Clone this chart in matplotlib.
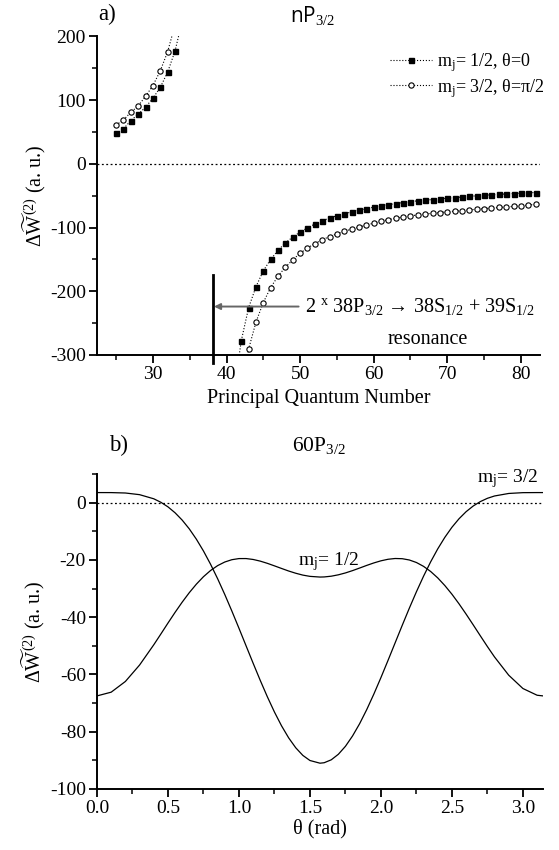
import matplotlib
matplotlib.use('Agg')
from matplotlib import pyplot as plt
from matplotlib.ticker import MultipleLocator, FormatStrFormatter

# =============================================================================================
# Data
# =============================================================================================
# panel a) - left branch (below resonance)
n_low_sq = [25, 26, 27, 28, 29, 30, 31, 32, 33, 34]
w_low_sq = [48, 55, 68, 78, 89, 103, 120, 144, 177, 225]
n_low_ci = [25, 26, 27, 28, 29, 30, 31, 32, 33]
w_low_ci = [61, 69, 81, 91, 106, 123, 146, 176, 218]

# panel a) - right branch (above resonance)
n_high_sq = [41, 42, 43, 44, 45, 46, 47, 48, 49, 50, 51, 52, 53, 54, 55, 56, 57, 58, 59, 60, 61,
             62, 63, 64, 65, 66, 67, 68, 69, 70, 71, 72, 73, 74, 75, 76, 77, 78, 79, 80, 81, 82]
w_high_sq = [-360, -278, -226, -193, -168, -150, -136, -124, -115, -107, -100.5, -94.5, -89.5,
             -85, -81.6, -78.5, -75.4, -72.7, -70.4, -68, -66, -64, -62.4, -60.8, -59.2, -58,
             -57, -56, -55, -54, -53, -52, -51, -50.2, -49.4, -48.6, -47.9, -47.2, -46.6, -46,
             -45.5, -45]
n_high_ci = [42, 43, 44, 45, 46, 47, 48, 49, 50, 51, 52, 53, 54, 55, 56, 57, 58, 59, 60, 61, 62,
             63, 64, 65, 66, 67, 68, 69, 70, 71, 72, 73, 74, 75, 76, 77, 78, 79, 80, 81, 82]
w_high_ci = [-360, -291, -248.5, -217.7, -194.2, -176.3, -162.2, -150.7, -140.2, -132.3, -125.1,
             -119.3, -114.1, -109.9, -105.7, -102.5, -99.4, -96.2, -93, -90, -87.6, -85.4,
             -83.3, -81.6, -80.1, -78.8, -77.5, -76.4, -75.3, -74.3, -73.3, -72.2, -71.2, -70.2,
             -69.4, -68.5, -67.6, -66.8, -65.9, -64.8, -63.3]

resonance_n = 38.2
arrow_w = -224

# panel b) - 60P3/2 versus theta
theta = [0.0, 0.1, 0.2, 0.3, 0.4, 0.45, 0.5, 0.55, 0.6, 0.65, 0.7, 0.75, 0.8, 0.85, 0.9, 0.95,
         1.0, 1.05, 1.1, 1.15, 1.2, 1.25, 1.3, 1.35, 1.4, 1.45, 1.5, 1.5708, 1.6, 1.65, 1.7,
         1.75, 1.8, 1.85, 1.9, 1.95, 2.0, 2.05, 2.1, 2.15, 2.2, 2.25, 2.3, 2.35, 2.4, 2.45, 2.5,
         2.55, 2.6, 2.65, 2.7, 2.75, 2.8, 2.9, 3.0, 3.1, 3.1416]
w_mj32 = [3.5, 3.49, 3.35, 2.77, 1.33, 0.11, -1.49, -3.56, -6.11, -9.17, -12.78, -16.90, -21.53,
          -26.61, -32.08, -37.87, -43.88, -50.00, -56.11, -62.09, -67.81, -73.14, -77.96,
          -82.15, -85.62, -88.28, -90.06, -91.0, -90.84, -89.82, -87.89, -85.10, -81.49, -77.20,
          -72.28, -66.87, -61.10, -55.09, -48.97, -42.86, -36.87, -31.13, -25.72, -20.71,
          -16.17, -12.14, -8.62, -5.64, -3.17, -1.19, 0.35, 1.50, 2.31, 3.19, 3.47, 3.50, 3.5]
w_mj12 = [-67.5, -66.20, -62.46, -56.72, -49.65, -45.88, -42.06, -38.33, -34.77, -31.46,
          -28.48, -25.88, -23.71, -22.00, -20.75, -19.94, -19.55, -19.54, -19.86, -20.44,
          -21.21, -22.09, -23.00, -23.89, -24.67, -25.32, -25.76, -26.0, -25.96, -25.70, -25.22,
          -24.56, -23.75, -22.85, -21.93, -21.07, -20.33, -19.79, -19.52, -19.59, -20.04,
          -20.92, -22.26, -24.05, -26.29, -28.96, -31.99, -35.35, -38.95, -42.70, -46.51,
          -50.28, -53.90, -60.27, -64.92, -67.27, -67.5]

# =============================================================================================
# Styling
# =============================================================================================
plt.rcParams['font.family'] = ['Liberation Serif', 'DejaVu Serif']
plt.rcParams['mathtext.fontset'] = 'custom'
plt.rcParams['mathtext.rm'] = 'Liberation Serif'
plt.rcParams['mathtext.it'] = 'Liberation Serif:italic'
plt.rcParams['mathtext.bf'] = 'Liberation Serif:bold'
plt.rcParams['axes.unicode_minus'] = False
tick_fontsize = 14
label_fontsize = 14.5
sans = 'Open Sans'

fig = plt.figure(figsize=(5.59, 8.5), dpi=100)
ax_a = fig.add_axes([0.1735, 0.5824, 0.7925, 0.3747])
ax_b = fig.add_axes([0.1735, 0.0718, 0.7979, 0.3706])


def style_axis(ax):
    for side in ['top', 'right']:
        ax.spines[side].set_visible(False)
    for side in ['left', 'bottom']:
        ax.spines[side].set_linewidth(1.4)
    ax.tick_params(which='major', direction='out', length=6, width=1.3,
                   labelsize=tick_fontsize, pad=2)
    ax.tick_params(which='minor', direction='out', length=3.5, width=1.1)


ylabel = r'$\Delta\widetilde{\mathrm{W}}^{(2)}$ (a. u.)'

# ---------------------------------------------------------------------------------------------
# panel a
# ---------------------------------------------------------------------------------------------
style_axis(ax_a)
ax_a.set_xlim(22.4, 82.6)
ax_a.set_ylim(-300, 200)
ax_a.xaxis.set_major_locator(MultipleLocator(10))
ax_a.xaxis.set_minor_locator(MultipleLocator(5))
ax_a.yaxis.set_major_locator(MultipleLocator(100))
ax_a.yaxis.set_minor_locator(MultipleLocator(50))

ax_a.axhline(0, color='black', lw=0.9, ls=(0, (1.5, 2)))

sq_style = dict(color='black', ls=':', lw=0.8, marker='s', ms=3.6, mfc='black', mec='black')
ci_style = dict(color='black', ls=':', lw=0.8, marker='o', ms=3.8, mfc='white', mec='black',
                mew=0.8)
ax_a.plot(n_low_sq, w_low_sq, label='m$_\\mathrm{j}$= 1/2, θ=0', **sq_style)
ax_a.plot(n_low_ci, w_low_ci, label='m$_\\mathrm{j}$= 3/2, θ=π/2', **ci_style)
ax_a.plot(n_high_sq, w_high_sq, **sq_style)
ax_a.plot(n_high_ci, w_high_ci, **ci_style)

# resonance marker and arrow
ax_a.plot([resonance_n, resonance_n], [-175, -312], color='black', lw=2, clip_on=False)
ax_a.annotate('', xy=(resonance_n + 0.1, arrow_w), xytext=(49.8, arrow_w),
              arrowprops=dict(arrowstyle='-|>', color='0.4', lw=1.4, mutation_scale=9,
                              shrinkA=0, shrinkB=0))
ax_a.text(50.6, arrow_w, '2 $^{\\mathrm{x}}$ 38P$_{3/2}$ \u2192 38S$_{1/2}$ + 39S$_{1/2}$',
          fontsize=14.5, va='center', ha='left')
ax_a.text(67.3, -276, 'resonance', fontsize=14.5, va='center', ha='center')

ax_a.legend(loc='upper right', bbox_to_anchor=(0.975, 0.94), bbox_transform=fig.transFigure,
            frameon=False, fontsize=13, handlelength=2.3, handletextpad=0.3,
            labelspacing=0.15, borderpad=0, borderaxespad=0)

ax_a.set_xlabel('Principal Quantum Number', fontsize=label_fontsize, labelpad=4)
ax_a.set_ylabel(ylabel, fontsize=label_fontsize, labelpad=1)
fig.text(0.175, 0.983, 'a)', fontsize=16.5, ha='left', va='center')
fig.text(0.518, 0.982, r'nP$_{3/2}$', fontsize=15, ha='left', va='center', family=sans)

# ---------------------------------------------------------------------------------------------
# panel b
# ---------------------------------------------------------------------------------------------
style_axis(ax_b)
ax_b.set_xlim(0, 3.1416)
ax_b.set_ylim(-100, 10)
ax_b.xaxis.set_major_locator(MultipleLocator(0.5))
ax_b.xaxis.set_minor_locator(MultipleLocator(0.25))
ax_b.yaxis.set_major_locator(MultipleLocator(20))
ax_b.yaxis.set_minor_locator(MultipleLocator(10))
ax_b.xaxis.set_major_formatter(FormatStrFormatter('%.1f'))

ax_b.axhline(0, color='black', lw=0.9, ls=(0, (1.5, 2)))
ax_b.plot(theta, w_mj32, color='black', lw=0.9)
ax_b.plot(theta, w_mj12, color='black', lw=0.9)
ax_b.text(1.415, -24.5, r'm$_\mathrm{j}$= 1/2', fontsize=14, ha='left', va='bottom')
ax_b.text(2.68, 4.3, r'm$_\mathrm{j}$= 3/2', fontsize=14, ha='left', va='bottom')

ax_b.set_xlabel('θ (rad)', fontsize=label_fontsize, labelpad=1)
ax_b.set_ylabel(ylabel, fontsize=label_fontsize, labelpad=2)
fig.text(0.195, 0.476, 'b)', fontsize=16.5, ha='left', va='center')
fig.text(0.523, 0.476, r'60P$_{3/2}$', fontsize=15.5, ha='left', va='center')

plt.savefig('out.png', dpi=100)
plt.close()
# eof
